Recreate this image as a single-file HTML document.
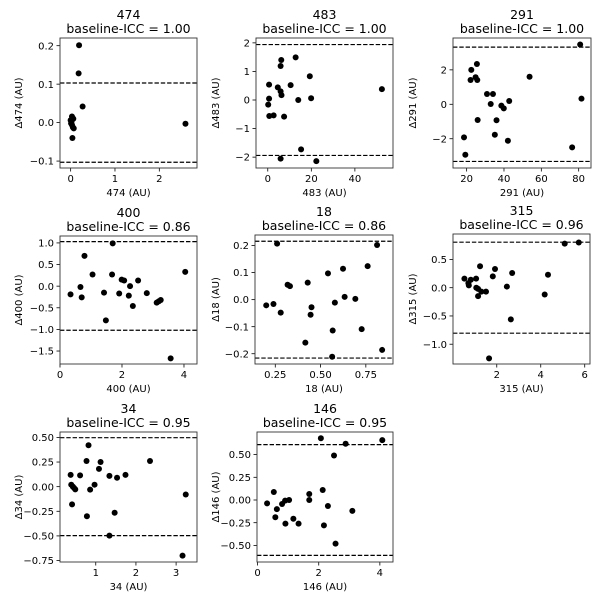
<!DOCTYPE html>
<html><head><meta charset="utf-8"><style>
html,body{margin:0;padding:0;background:#fff;}
svg{display:block;font-family:"DejaVu Sans","Liberation Sans",sans-serif;}
</style></head><body>
<svg id="fig" width="600" height="600" viewBox="0 0 600 600" xmlns="http://www.w3.org/2000/svg"></svg>
<script>
// ---- data ----
const p474_x=[0.19,0.18,0.27,2.59,0.03,0.06,0.02,0.01,0.03,0.05,0.07,0.04,0.0];
const p474_y=[0.201,0.128,0.042,-0.003,0.016,0.010,0.003,-0.002,-0.006,-0.012,-0.015,-0.040,0.006];
const p474_loa=[0.103,-0.103];
const p483_x=[0.2,0.6,0.6,0.7,2.7,4.6,6.2,5.9,5.9,6.3,5.9,7.5,10.5,12.8,14.0,15.3,19.3,19.9,22.3,52.4];
const p483_y=[-0.16,0.05,0.54,-0.56,-0.54,0.44,1.40,1.19,0.30,0.17,-2.05,-0.58,0.52,1.49,0.0,-1.73,0.83,0.06,-2.14,0.38];
const p483_loa=[1.94,-1.94];
const p291_x=[18.6,19.3,22.5,22.1,24.8,25.7,25.5,25.9,30.9,34.1,32.9,36.0,35.1,38.6,39.9,42.1,42.8,53.7,76.5,80.8,81.5];
const p291_y=[-1.92,-2.93,2.0,1.41,1.57,1.41,2.34,-0.91,0.6,0.6,0.02,-0.93,-1.77,-0.08,-0.24,-2.12,0.19,1.6,-2.5,3.47,0.33];
const p291_loa=[3.32,-3.32];
const p400_x=[0.34,0.66,0.7,0.79,1.05,1.42,1.48,1.70,1.68,1.91,1.99,2.07,2.22,2.26,2.35,2.52,2.80,3.12,3.19,3.25,3.57,4.04];
const p400_y=[-0.19,-0.02,-0.26,0.70,0.27,-0.15,-0.79,0.99,0.27,-0.17,0.15,0.13,-0.22,0.0,-0.46,0.13,-0.16,-0.38,-0.35,-0.32,-1.67,0.33];
const p400_loa=[1.03,-1.02];
const p18_x=[0.20,0.24,0.26,0.28,0.318,0.331,0.429,0.45,0.445,0.416,0.541,0.567,0.564,0.579,0.624,0.633,0.692,0.727,0.76,0.812,0.84];
const p18_y=[-0.021,-0.016,0.207,-0.048,0.055,0.05,0.063,-0.028,-0.056,-0.159,0.097,-0.114,-0.211,-0.011,0.114,0.01,0.003,-0.109,0.124,0.202,-0.186];
const p18_loa=[0.216,-0.216];
const p315_x=[0.53,0.71,0.73,0.82,1.06,1.07,1.15,1.15,1.24,1.30,1.51,1.65,1.82,1.92,2.46,2.70,2.64,4.18,4.33,5.09,5.73];
const p315_y=[0.16,0.08,0.04,0.14,0.16,0.0,-0.02,-0.15,0.38,-0.07,-0.07,-1.25,0.2,0.33,0.02,0.26,-0.56,-0.12,0.23,0.78,0.80];
const p315_loa=[0.805,-0.805];
const p34_x=[0.375,0.39,0.43,0.46,0.49,0.41,0.61,0.77,0.78,0.82,0.86,0.97,1.08,1.12,1.34,1.34,1.47,1.53,1.74,2.35,3.24,3.16];
const p34_y=[0.12,0.02,0.0,-0.013,-0.027,-0.18,0.115,0.26,-0.30,0.42,-0.03,0.02,0.18,0.25,0.11,-0.497,-0.265,0.09,0.12,0.26,-0.08,-0.70];
const p34_loa=[0.497,-0.497];
const p146_x=[0.31,0.53,0.58,0.63,0.80,0.90,1.03,0.91,1.17,1.34,1.69,1.69,2.07,2.13,2.17,2.30,2.50,2.55,2.88,3.10,4.08];
const p146_y=[-0.037,0.088,-0.19,-0.10,-0.044,-0.007,0.0,-0.26,-0.206,-0.26,0.066,0.0,0.68,0.11,-0.28,-0.066,0.49,-0.48,0.62,-0.12,0.66];
const p146_loa=[0.61,-0.61];
const titles=["474","483","291","400","18","315","34","146"];
const iccs=["1.00","1.00","1.00","0.86","0.86","0.96","0.95","0.95"];
const xTicks474=[0,1,2], yTicks474=[0.2,0.1,0.0,-0.1];
const xTicks483=[0,20,40], yTicks483=[2,1,0,-1,-2];
const xTicks291=[20,40,60,80], yTicks291=[2,0,-2];
const xTicks400=[0,2,4], yTicks400=[1.0,0.5,0.0,-0.5,-1.0,-1.5];
const xTicks18=[0.25,0.50,0.75], yTicks18=[0.2,0.1,0.0,-0.1,-0.2];
const xTicks315=[2,4,6], yTicks315=[0.5,0.0,-0.5,-1.0];
const xTicks34=[1,2,3], yTicks34=[0.50,0.25,0.00,-0.25,-0.50,-0.75];
const xTicks146=[0,2,4], yTicks146=[0.50,0.25,0.00,-0.25,-0.50];

// ---- layout (not data) ----
const panels=[
 {x:p474_x,y:p474_y,loa:p474_loa,xt:xTicks474,yt:yTicks474,xd:0,yd:1,box:[60,38,197,168],xl:[-0.24,2.85],yl:[0.22,-0.118]},
 {x:p483_x,y:p483_y,loa:p483_loa,xt:xTicks483,yt:yTicks483,xd:0,yd:0,box:[256,38,393,168],xl:[-5.4,57.5],yl:[2.17,-2.38]},
 {x:p291_x,y:p291_y,loa:p291_loa,xt:xTicks291,yt:yTicks291,xd:0,yd:0,box:[453,38,591,168],xl:[12.7,86.6],yl:[3.85,-3.7]},
 {x:p400_x,y:p400_y,loa:p400_loa,xt:xTicks400,yt:yTicks400,xd:0,yd:1,box:[60,236,197,364],xl:[0,4.42],yl:[1.16,-1.80]},
 {x:p18_x,y:p18_y,loa:p18_loa,xt:xTicks18,yt:yTicks18,xd:2,yd:1,box:[255,235,393,364],xl:[0.138,0.90],yl:[0.239,-0.238]},
 {x:p315_x,y:p315_y,loa:p315_loa,xt:xTicks315,yt:yTicks315,xd:0,yd:1,box:[453,234,590,364],xl:[0.01,6.24],yl:[0.95,-1.35]},
 {x:p34_x,y:p34_y,loa:p34_loa,xt:xTicks34,yt:yTicks34,xd:0,yd:2,box:[60,432,197,562],xl:[0.11,3.52],yl:[0.555,-0.765]},
 {x:p146_x,y:p146_y,loa:p146_loa,xt:xTicks146,yt:yTicks146,xd:0,yd:2,box:[257,432,393,562],xl:[-0.02,4.43],yl:[0.749,-0.683]}
];
const NS="http://www.w3.org/2000/svg";
const svg=document.getElementById('fig');
function mk(tag,attrs,parent){const e=document.createElementNS(NS,tag);for(const k in attrs)e.setAttribute(k,attrs[k]);(parent||svg).appendChild(e);return e;}
function fmt(v,d){let s=v.toFixed(d);if(v<0)s='\u2212'+s.slice(1);return s;}
panels.forEach((p,i)=>{
  const [L,T,R,B]=p.box;
  const sx=v=>L+(v-p.xl[0])/(p.xl[1]-p.xl[0])*(R-L);
  const sy=v=>T+(v-p.yl[0])/(p.yl[1]-p.yl[0])*(B-T);
  const g=mk('g',{});
  
  
  const cx=(L+R)/2;
  const t1=mk('text',{x:cx,y:T-19,'text-anchor':'middle','font-size':'12.5',fill:'#000'},g);
  t1.textContent=titles[i];
  
  
  const t2=mk('text',{x:cx,y:T-5,'text-anchor':'middle','font-size':'12.5',fill:'#000'},g);
  t2.textContent='baseline-ICC = '+iccs[i];
  
  
  p.xt.forEach(v=>{
    const x=sx(v);
    mk('line',{x1:x,y1:B,x2:x,y2:B+3.5,stroke:'#000','stroke-width':0.8},g);
    const tl=mk('text',{x:x,y:B+14,'text-anchor':'middle','font-size':'10',fill:'#000'},g);
    tl.textContent=fmt(v,p.xd);
    
    
  });
  p.yt.forEach(v=>{
    const y=sy(v);
    mk('line',{x1:L-3.5,y1:y,x2:L,y2:y,stroke:'#000','stroke-width':0.8},g);
    const tl=mk('text',{x:L-6,y:y+3.6,'text-anchor':'end','font-size':'10',fill:'#000'},g);
    tl.textContent=fmt(v,p.yd);
    
    
  });
  const xlab=mk('text',{x:cx,y:B+28,'text-anchor':'middle','font-size':'10',fill:'#000'},g);
  xlab.textContent=titles[i]+' (AU)';
  
  
  const ylx=(i%3===0)?22:(i%3===1?219:416);
  const yc=(T+B)/2;
  const ylab=mk('text',{x:ylx,y:yc,'text-anchor':'middle','font-size':'10',fill:'#000',transform:'rotate(-90 '+ylx+' '+yc+')'},g);
  ylab.textContent='\u0394'+titles[i]+' (AU)';
  
  
  p.loa.forEach(v=>{
    const l=mk('line',{x1:L,y1:sy(v),x2:R,y2:sy(v),stroke:'#000','stroke-width':1.2,'stroke-dasharray':'4.4,1.9'},g);
    
    
  });
  p.x.forEach((xv,j)=>{
    const c=mk('circle',{cx:sx(xv),cy:sy(p.y[j]),r:3,fill:'#000'},g);
    
    
  });
  const fr=mk('rect',{x:L,y:T,width:R-L,height:B-T,fill:'none',stroke:'#333','stroke-width':0.9},g);
  
  
});
</script>
</body></html>
